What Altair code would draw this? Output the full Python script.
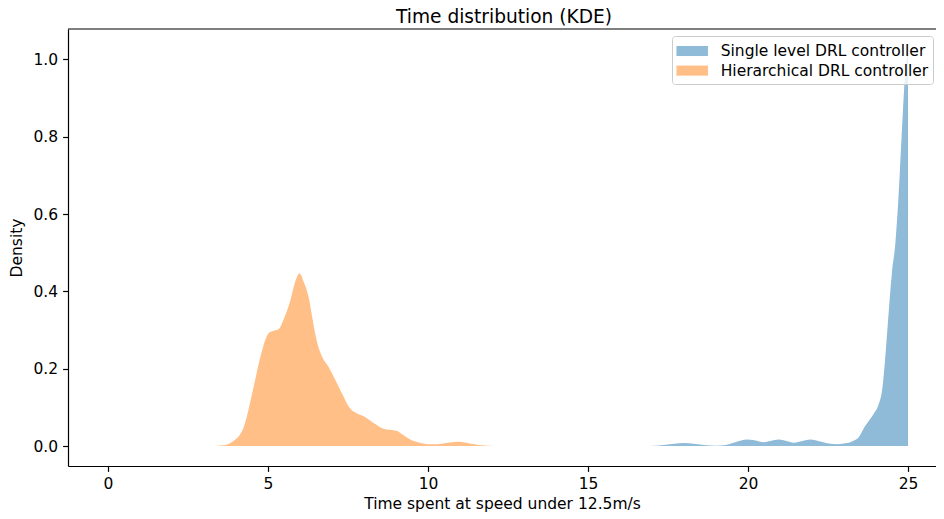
import altair as alt
import pandas as pd

# Hierarchical DRL controller (orange) KDE
hier_time = [3.3, 3.6, 3.9, 4.24, 4.55, 4.76, 5.02, 5.2, 5.33, 5.5, 5.7, 5.85, 5.91, 5.97,
             6.04, 6.1, 6.27, 6.4, 6.53, 6.7, 6.89, 7.05, 7.2, 7.36, 7.5, 7.63, 7.8, 7.99,
             8.3, 8.61, 8.8, 9.03, 9.2, 9.34, 9.55, 9.76, 10.0, 10.28, 10.6, 10.9,
             11.1, 11.3, 11.6, 11.9, 12.3]
hier_density = [0.0, 0.002, 0.012, 0.049, 0.153, 0.23, 0.292, 0.299, 0.302, 0.33,
                0.377, 0.425, 0.438, 0.446, 0.441, 0.428, 0.385, 0.325, 0.27, 0.23,
                0.205, 0.18, 0.155, 0.128, 0.105, 0.092, 0.084, 0.077, 0.06, 0.045,
                0.042, 0.039, 0.03, 0.022, 0.013, 0.008, 0.005, 0.005, 0.008, 0.011,
                0.010, 0.007, 0.003, 0.001, 0.0]

# Single level DRL controller (blue) KDE
single_time = [16.9, 17.3, 17.7, 18.0, 18.3, 18.7, 19.0, 19.3, 19.6, 19.97, 20.2,
               20.49, 20.7, 20.96, 21.2, 21.43, 21.7, 21.95, 22.2, 22.57, 22.8,
               23.09, 23.3, 23.46, 23.61, 23.8, 23.93, 24.07, 24.2, 24.3, 24.4,
               24.5, 24.6, 24.7, 24.8, 24.9, 25.0]
single_density = [0.0, 0.002, 0.006, 0.008, 0.006, 0.002, 0.001, 0.003, 0.01, 0.017,
                  0.015, 0.010, 0.013, 0.017, 0.013, 0.009, 0.013, 0.017, 0.013,
                  0.006, 0.005, 0.008, 0.014, 0.023, 0.045, 0.068, 0.084, 0.105,
                  0.15, 0.24, 0.35, 0.45, 0.52, 0.64, 0.80, 0.95, 1.027]

series_names = ["Single level DRL controller", "Hierarchical DRL controller"]
series_colors = ["#8fbbd9", "#ffbf86"]
x_ticks = [0, 5, 10, 15, 20, 25]
y_ticks = [0.0, 0.2, 0.4, 0.6, 0.8, 1.0]

df = pd.concat([
    pd.DataFrame({"time": single_time, "density": single_density, "series": series_names[0]}),
    pd.DataFrame({"time": hier_time, "density": hier_density, "series": series_names[1]}),
], ignore_index=True)

FONT = "DejaVu Sans"
W, H = 868, 437
x_scale = alt.Scale(domain=[-1.25, -1.25 + W / 32.0], nice=False, zero=False)
y_scale = alt.Scale(domain=[-0.0514, 1.0784], nice=False, zero=False)

areas = alt.Chart(df).mark_area(interpolate="monotone").encode(
    x=alt.X("time:Q", scale=x_scale,
            axis=alt.Axis(values=x_ticks, format="d", title="Time spent at speed under 12.5m/s",
                          titlePadding=5)),
    y=alt.Y("density:Q", scale=y_scale, stack=None,
            axis=alt.Axis(values=y_ticks, format=".1f", title="Density", titlePadding=8)),
    color=alt.Color("series:N",
                    scale=alt.Scale(domain=series_names, range=series_colors),
                    legend=alt.Legend(title=None, orient="none", legendX=604, legendY=7)),
)

# top frame line of the axes box (matplotlib spine)
top_spine = alt.Chart(pd.DataFrame({"k": [0]})).mark_rule(
    color="black", strokeWidth=1.2
).encode(x=alt.value(0), x2=alt.value(W), y=alt.value(0))

chart = alt.layer(areas, top_spine).properties(
    width=W,
    height=H,
    autosize=alt.AutoSizeParams(type="none"),
    padding={"left": 60, "top": 21, "right": 0, "bottom": 50},
    title=alt.Title("Time distribution (KDE)", font=FONT, fontSize=18.6, fontWeight="normal",
                    color="black", anchor="middle", offset=2, dx=2),
).configure_view(
    stroke=None
).configure_axis(
    grid=False,
    domainColor="black", domainWidth=1.2,
    tickColor="black", tickWidth=1.2, tickSize=5.4,
    labelFont=FONT, labelFontSize=15.5, labelColor="black", labelPadding=5,
    titleFont=FONT, titleFontSize=15.5, titleColor="black", titleFontWeight="normal",
).configure_legend(
    padding=4.5,
    symbolType="M-1.5,-0.48H1.5V0.48H-1.5Z",
    symbolSize=441,
    symbolOffset=5.2,
    symbolStrokeWidth=0,
    symbolOpacity=1,
    labelFont=FONT, labelFontSize=15.5, labelColor="black", labelLimit=400,
    labelOffset=18,
    rowPadding=0.6,
    strokeColor="#cccccc",
    fillColor="rgba(255,255,255,0.8)",
    cornerRadius=3,
)

chart.save("out.html", embed_options={"renderer": "svg", "actions": False})
